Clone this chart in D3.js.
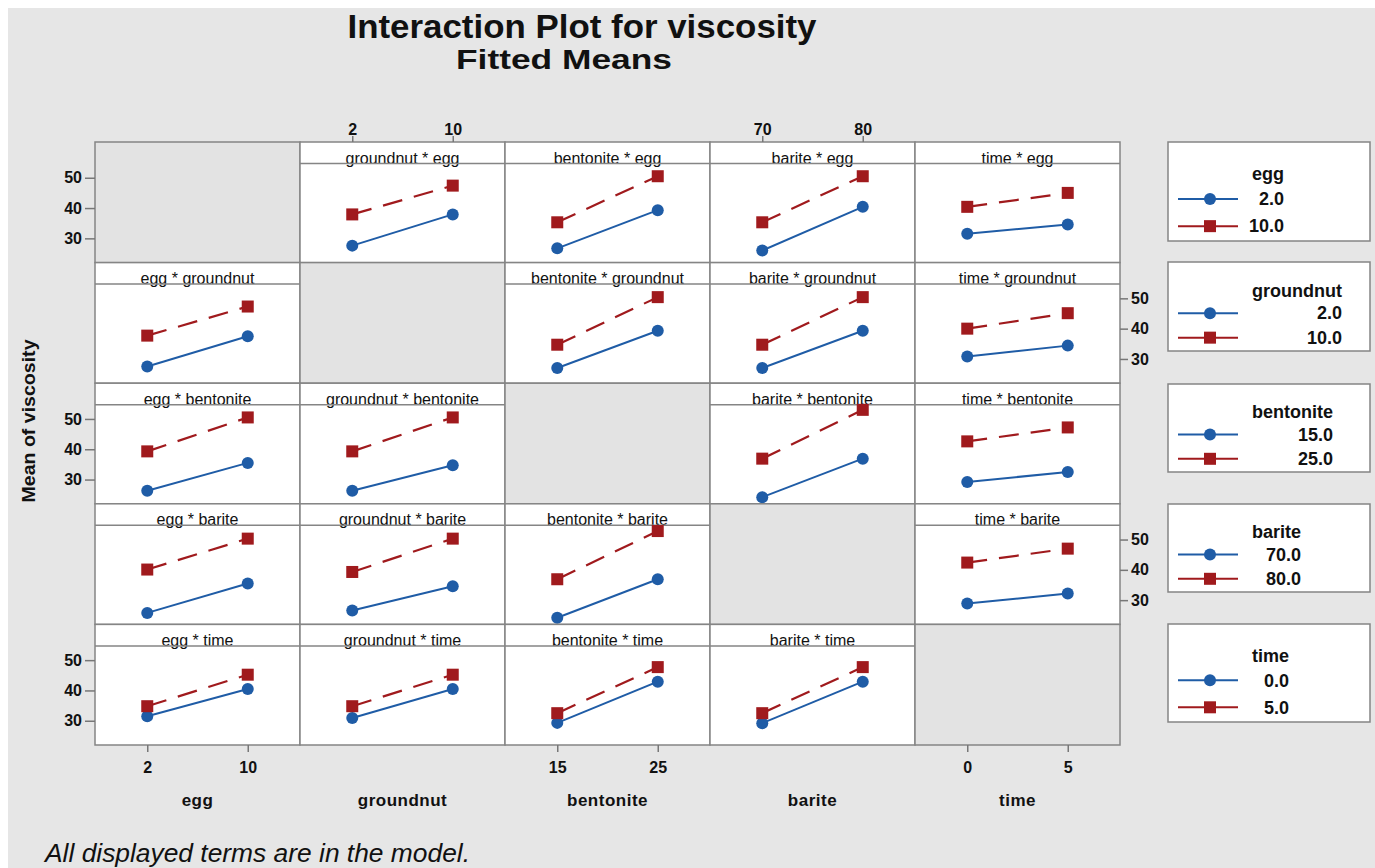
<!DOCTYPE html>
<meta charset="utf-8">
<style>
body { margin: 0; background: #fff; }
svg text { font-family: "Liberation Sans", Arial, sans-serif; fill: #111; }
.ttl { font-weight: bold; }
.strip { font-size: 16px; }
.tick text { font-size: 16px; font-weight: bold; }
.tick line { stroke: #777; stroke-width: 1.5px; }
.leg { font-size: 18px; font-weight: bold; }
</style>
<svg width="1375" height="868"></svg>
<script src="https://d3js.org/d3.v7.min.js"></script>
<script>

// factors and their two levels
var factors = ["egg", "groundnut", "bentonite", "barite", "time"];
var levels = [[2, 10], [2, 10], [15, 25], [70, 80], [0, 5]];
var levelLabels = [["2.0", "10.0"], ["2.0", "10.0"], ["15.0", "25.0"], ["70.0", "80.0"], ["0.0", "5.0"]];
var yTicks = [30, 40, 50];
var yDomain = [22, 54.7];

// fitted means, one array per trace factor (row), one entry per x factor (column):
// [low trace @ x low, low trace @ x high, high trace @ x low, high trace @ x high]
var eggMeans       = [null, [27.6, 37.9, 37.9, 47.4], [26.7, 39.3, 35.3, 50.5], [26.0, 40.4, 35.3, 50.5], [31.5, 34.6, 40.4, 45.0]];
var groundnutMeans = [[27.5, 37.5, 37.7, 47.3], null, [27.0, 39.3, 34.7, 50.4], [27.0, 39.3, 34.7, 50.4], [30.8, 34.4, 40.0, 45.1]];
var bentoniteMeans = [[26.3, 35.5, 39.3, 50.5], [26.3, 34.7, 39.3, 50.5], null, [24.2, 36.9, 36.9, 53.0], [29.2, 32.5, 42.6, 47.2]];
var bariteMeans    = [[25.8, 35.5, 40.1, 50.3], [26.6, 34.6, 39.3, 50.3], [24.2, 36.9, 36.9, 52.8], null, [28.9, 32.2, 42.4, 47.0]];
var timeMeans      = [[31.5, 40.5, 34.8, 45.2], [30.9, 40.5, 34.8, 45.2], [29.3, 42.9, 32.5, 47.7], [29.2, 42.9, 32.5, 47.7], null];

var means = [eggMeans, groundnutMeans, bentoniteMeans, bariteMeans, timeMeans];

var blue = "#1f5ca6",
    red = "#a01a1d",
    border = "#858585";

var svg = d3.select("svg");

// background, with the thin white margin top and left
svg.append("rect").attr("x", 8).attr("y", 8).attr("width", 1367).attr("height", 860).attr("fill", "#e6e6e6");

var gx0 = 95, gx1 = 1120, gy0 = 142, gy1 = 745, stripH = 21.5;

var col = d3.scaleBand().domain(d3.range(5)).range([gx0, gx1]);
var row = d3.scaleBand().domain(d3.range(5)).range([gy0, gy1]);

function yScale(r) {
  return d3.scaleLinear().domain(yDomain).range([row(r) + row.bandwidth(), row(r) + stripH]);
}
function xScale(c) {
  var a = levels[c][0], b = levels[c][1], d = b - a;
  return d3.scaleLinear().domain([a - 0.52 * d, b + 0.52 * d]).range([col(c), col(c) + col.bandwidth()]);
}

// titles
svg.append("text").attr("class", "ttl").attr("x", 582).attr("y", 38)
    .attr("text-anchor", "middle").style("font-size", "33px")
    .attr("textLength", 469).attr("lengthAdjust", "spacingAndGlyphs")
    .text("Interaction Plot for viscosity");
svg.append("text").attr("class", "ttl").attr("x", 564).attr("y", 69)
    .attr("text-anchor", "middle").style("font-size", "27px")
    .attr("textLength", 216).attr("lengthAdjust", "spacingAndGlyphs")
    .text("Fitted Means");

var panels = svg.append("g");

d3.range(5).forEach(function(r) {
  d3.range(5).forEach(function(c) {
    var g = panels.append("g");
    var x0 = col(c), y0 = row(r), w = col.bandwidth(), h = row.bandwidth();
    if (r === c) {
      g.append("rect").attr("x", x0).attr("y", y0).attr("width", w).attr("height", h)
          .attr("fill", "#e3e3e3").attr("stroke", border).attr("stroke-width", 1.5);
      return;
    }
    g.append("rect").attr("x", x0).attr("y", y0).attr("width", w).attr("height", h)
        .attr("fill", "#fff").attr("stroke", border).attr("stroke-width", 1.5);
    g.append("text").attr("class", "strip")
        .attr("x", x0 + w / 2).attr("y", y0 + stripH)
        .attr("text-anchor", "middle")
        .text(factors[c] + " * " + factors[r]);
    g.append("line").attr("x1", x0).attr("x2", x0 + w)
        .attr("y1", y0 + stripH).attr("y2", y0 + stripH)
        .attr("stroke", border).attr("stroke-width", 1.5);

    var x = xScale(c), y = yScale(r), v = means[r][c];
    var lo = [[levels[c][0], v[0]], [levels[c][1], v[1]]],
        hi = [[levels[c][0], v[2]], [levels[c][1], v[3]]];
    var line = d3.line().x(function(d) { return x(d[0]); }).y(function(d) { return y(d[1]); });

    g.append("path").attr("d", line(lo)).attr("fill", "none")
        .attr("stroke", blue).attr("stroke-width", 2);
    g.selectAll("circle").data(lo).enter().append("circle")
        .attr("cx", function(d) { return x(d[0]); })
        .attr("cy", function(d) { return y(d[1]); })
        .attr("r", 6).attr("fill", blue);

    g.append("path").attr("d", line(hi)).attr("fill", "none")
        .attr("stroke", red).attr("stroke-width", 2.2).attr("stroke-dasharray", "20,12");
    g.selectAll("rect.sq").data(hi).enter().append("rect").attr("class", "sq")
        .attr("x", function(d) { return x(d[0]) - 6; })
        .attr("y", function(d) { return y(d[1]) - 6; })
        .attr("width", 12).attr("height", 12).attr("fill", red);
  });
});

function styleAxis(sel) {
  sel.select(".domain").remove();
}

// y axes: left on rows 1,3,5, right on rows 2,4
d3.range(5).forEach(function(r) {
  if (r % 2 === 0) {
    svg.append("g").attr("transform", "translate(" + gx0 + ",0)")
        .call(d3.axisLeft(yScale(r)).tickValues(yTicks).tickSize(10).tickPadding(3))
        .call(styleAxis);
  } else {
    svg.append("g").attr("transform", "translate(" + gx1 + ",0)")
        .call(d3.axisRight(yScale(r)).tickValues(yTicks).tickSize(8).tickPadding(3))
        .call(styleAxis);
  }
});

// x axes: bottom on cols 1,3,5, top on cols 2,4
d3.range(5).forEach(function(c) {
  if (c % 2 === 0) {
    svg.append("g").attr("transform", "translate(0," + gy1 + ")")
        .call(d3.axisBottom(xScale(c)).tickValues(levels[c]).tickFormat(d3.format("d")).tickSize(7).tickPadding(10))
        .call(styleAxis);
  } else {
    svg.append("g").attr("transform", "translate(0," + gy0 + ")")
        .call(d3.axisTop(xScale(c)).tickValues(levels[c]).tickFormat(d3.format("d")).tickSize(6).tickPadding(1))
        .call(styleAxis);
  }
  svg.append("text").attr("class", "ttl")
      .attr("x", col(c) + col.bandwidth() / 2).attr("y", 806)
      .attr("text-anchor", "middle").style("font-size", "17px").style("letter-spacing", "0.5px")
      .text(factors[c]);
});

svg.append("text").attr("class", "ttl")
    .attr("transform", "translate(35,421) rotate(-90)")
    .attr("text-anchor", "middle").style("font-size", "19px")
    .attr("textLength", 163).attr("lengthAdjust", "spacingAndGlyphs")
    .text("Mean of viscosity");

// legends
var legTop = [142, 262, 384, 504, 624],
    legH = [99, 89, 88, 88, 98];

factors.forEach(function(f, i) {
  var h = legH[i];
  var g = svg.append("g").attr("transform", "translate(1168," + legTop[i] + ")");
  g.append("rect").attr("width", 202).attr("height", h)
      .attr("fill", "#fff").attr("stroke", border).attr("stroke-width", 1.5);
  var t = g.append("text").attr("class", "leg").attr("x", 84).attr("y", h * 0.32).attr("dy", ".35em").text(f);
  var right = 84 + Math.max(t.node().getComputedTextLength(), 30);
  [0, 1].forEach(function(k) {
    var yy = h * (k === 0 ? 0.575 : 0.85);
    var c = k === 0 ? blue : red;
    g.append("line").attr("x1", 10).attr("x2", 70).attr("y1", yy).attr("y2", yy)
        .attr("stroke", c).attr("stroke-width", 2);
    if (k === 0) {
      g.append("circle").attr("cx", 42).attr("cy", yy).attr("r", 6).attr("fill", c);
    } else {
      g.append("rect").attr("x", 36).attr("y", yy - 6).attr("width", 12).attr("height", 12).attr("fill", c);
    }
    g.append("text").attr("class", "leg").attr("x", right).attr("y", yy).attr("dy", ".35em")
        .attr("text-anchor", "end").text(levelLabels[i][k]);
  });
});

svg.append("text").attr("x", 45).attr("y", 862)
    .style("font-size", "26px").style("font-style", "italic")
    .attr("textLength", 425).attr("lengthAdjust", "spacingAndGlyphs")
    .text("All displayed terms are in the model.");

</script>
